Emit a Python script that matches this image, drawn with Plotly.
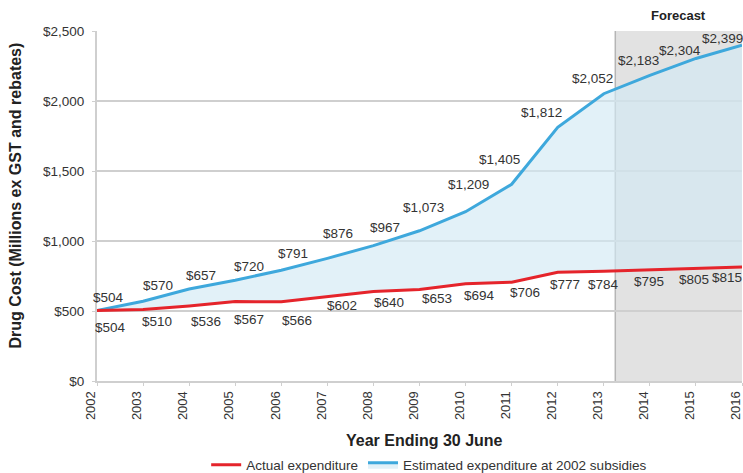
import plotly.graph_objects as go

# ---- data ----
years = list(range(2002, 2017))
actual = [504, 510, 536, 567, 566, 602, 640, 653, 694, 706, 777, 784, 795, 805, 815]
estimated = [504, 570, 657, 720, 791, 876, 967, 1073, 1209, 1405, 1812, 2052, 2183, 2304, 2399]
forecast_start = 2013.25
forecast_end = 2016
y_tick_vals = [0, 500, 1000, 1500, 2000, 2500]

# ---- label offsets (style, in px) ----
est_dx = [11, 15, 12, 14, 12, 11, 12, 4, 3, -12, -16, -11, -11, -16, -20]
est_dy = [13, 16, 14, 14, 17, 25, 18, 23, 27, 25, 15, 15, 15, 8, 7]
act_dx = [13, 14, 17, 14, 16, 15, 16, 17, 14, 13, 7, 0, -1, -2, -15]
act_dy = [-17, -12, -16, -18, -19, -9, -11, -9, -12, -10, -12, -13, -12, -11, -11]

RED = "#e5242b"
BLUE = "#3ea8dc"
FONT = "Liberation Sans, Arial, sans-serif"
TXT = "#333333"
GRID = "#cfcfcf"

fig = go.Figure()

# helper (red baseline for fill)
fig.add_trace(go.Scatter(x=years, y=actual, mode="lines", line=dict(width=0, color=RED),
                         showlegend=False, hoverinfo="skip"))
fig.add_trace(go.Scatter(x=years, y=estimated, mode="lines", fill="tonexty",
                         fillcolor="rgba(211,234,244,0.655)",
                         line=dict(color=BLUE, width=3),
                         name="Estimated expenditure at 2002 subsidies", legendrank=2))
fig.add_trace(go.Scatter(x=years, y=actual, mode="lines",
                         line=dict(color=RED, width=3),
                         name="Actual expenditure", legendrank=1))

annotations = []
for i, yr in enumerate(years):
    annotations.append(dict(x=yr, y=estimated[i], xref="x", yref="y",
                            text=f"${estimated[i]:,}", showarrow=False,
                            xshift=est_dx[i], yshift=est_dy[i],
                            xanchor="center", yanchor="middle",
                            font=dict(family=FONT, size=13.5, color=TXT)))
    annotations.append(dict(x=yr, y=actual[i], xref="x", yref="y",
                            text=f"${actual[i]:,}", showarrow=False,
                            xshift=act_dx[i], yshift=act_dy[i],
                            xanchor="center", yanchor="middle",
                            font=dict(family=FONT, size=13.5, color=TXT)))

annotations.append(dict(x=(forecast_start + forecast_end) / 2, y=1.043, xref="x", yref="paper",
                        text="<b>Forecast</b>", showarrow=False, xanchor="center", yanchor="middle",
                        font=dict(family=FONT, size=13, color="#222222")))
annotations.append(dict(x=0.507, y=-0.171, xref="paper", yref="paper",
                        text="<b>Year Ending 30 June</b>", showarrow=False,
                        xanchor="center", yanchor="middle",
                        font=dict(family=FONT, size=16, color="#222222")))
annotations.append(dict(x=-0.1256, y=0.53, xref="paper", yref="paper",
                        text="<b>Drug Cost (Millions ex GST and rebates)</b>", showarrow=False,
                        textangle=-90, xanchor="center", yanchor="middle",
                        font=dict(family=FONT, size=16, color="#222222")))

fig.update_layout(
    width=743, height=473,
    margin=dict(l=97, r=1, t=31, b=92, autoexpand=False),
    paper_bgcolor="white", plot_bgcolor="white",
    font=dict(family=FONT, size=13.5, color=TXT),
    annotations=annotations,
    shapes=[
        dict(type="rect", xref="x", yref="y", x0=forecast_start, x1=forecast_end,
             y0=0, y1=2500, fillcolor="#e2e2e2", line=dict(width=0), layer="below"),
        dict(type="line", xref="x", yref="y", x0=forecast_start, x1=forecast_start,
             y0=0, y1=2500, line=dict(color="#b5b5b5", width=1.5), layer="below"),
    ],
    showlegend=True,
    legend=dict(orientation="h", x=0.515, xanchor="center", y=-0.24, yanchor="middle",
                traceorder="normal",
                font=dict(family=FONT, size=13.5, color=TXT), itemwidth=30,
                bgcolor="rgba(0,0,0,0)"),
)

fig.update_xaxes(range=[2002, 2016], tickmode="array", tickvals=years,
                 ticktext=[str(y) for y in years], tickangle=-90, automargin=False,
                 showgrid=False, zeroline=False, showline=True, linecolor=GRID, linewidth=2,
                 ticks="outside", ticklen=3, tickcolor=GRID, ticklabeloverflow="allow",
                 ticklabelshift=-6,
                 tickfont=dict(family=FONT, size=13, color=TXT))
fig.update_yaxes(range=[0, 2500], tickmode="array", tickvals=y_tick_vals,
                 ticktext=[f"${v:,}" for v in y_tick_vals], automargin=False,
                 showgrid=True, gridcolor=GRID, gridwidth=2, zeroline=False,
                 showline=True, linecolor=GRID, linewidth=2,
                 ticks="outside", ticklen=3, tickcolor=GRID, ticklabelstandoff=5,
                 tickfont=dict(family=FONT, size=13.5, color=TXT))

fig.write_html("out.html")
